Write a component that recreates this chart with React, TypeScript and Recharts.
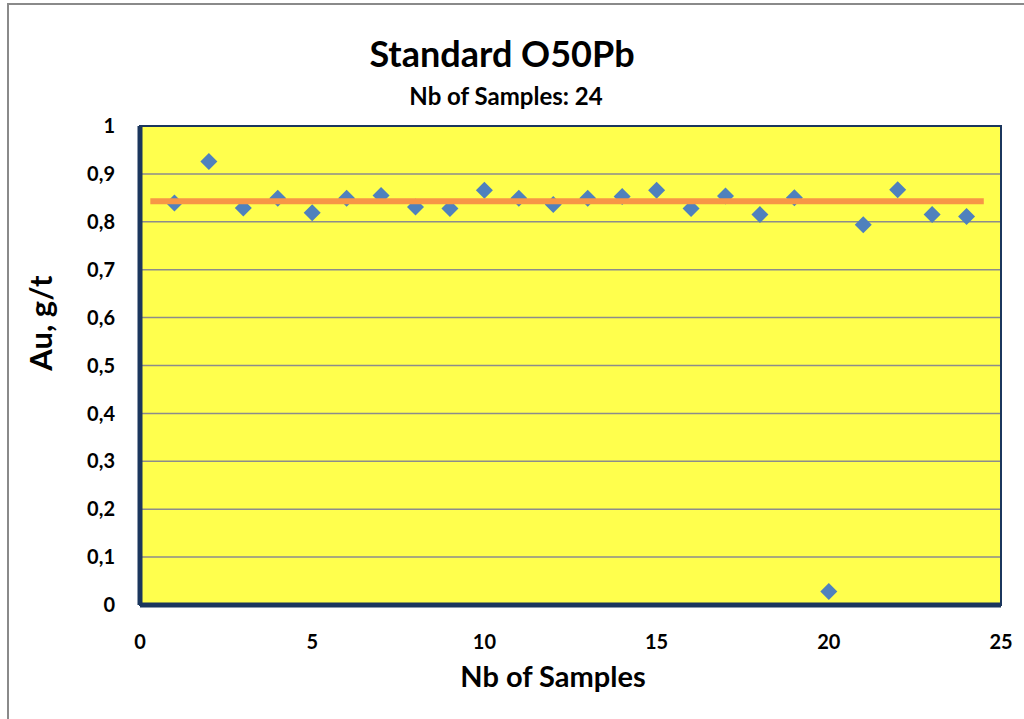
import {
  ScatterChart,
  Scatter,
  XAxis,
  YAxis,
  CartesianGrid,
  ReferenceArea,
} from "recharts";

const sampleNo = [1, 2, 3, 4, 5, 6, 7, 8, 9, 10, 11, 12, 13, 14, 15, 16, 17, 18, 19, 20, 21, 22, 23, 24];
const auValues = [
  0.839, 0.926, 0.829, 0.849, 0.819, 0.849, 0.855, 0.831, 0.828, 0.866, 0.849, 0.836,
  0.849, 0.853, 0.866, 0.828, 0.854, 0.815, 0.85, 0.028, 0.794, 0.867, 0.815, 0.811,
];
const avgLineX = [0.3, 24.5];
const avgValue = 0.843;
const xTicks = [0, 5, 10, 15, 20, 25];
const yTicks = [0, 0.1, 0.2, 0.3, 0.4, 0.5, 0.6, 0.7, 0.8, 0.9, 1];

const NAVY = "#1B365D";
const FONT = "Lato, 'Noto Sans', sans-serif";

const points = sampleNo.map((x, i) => ({ x, y: auValues[i] }));
const avgLine = avgLineX.map((x) => ({ x, y: avgValue }));

function Diamond(props: any) {
  const { cx, cy } = props;
  const r = 8.5;
  return (
    <polygon
      points={`${cx},${cy - r} ${cx + r},${cy} ${cx},${cy + r} ${cx - r},${cy}`}
      fill="#4F81BD"
    />
  );
}

const tickStyle = { fontSize: 20, fontWeight: 700, fill: "#000", fontFamily: FONT };

export default function App() {
  return (
    <div
      style={{
        position: "absolute",
        left: 0,
        top: 0,
        width: 1024,
        height: 719,
        overflow: "hidden",
        background: "#fff",
        fontFamily: FONT,
      }}
    >
      <div
        style={{
          position: "absolute",
          left: 7,
          top: 3,
          width: 1100,
          height: 800,
          border: "2px solid #8a8a8a",
        }}
      />
      <div
        style={{
          position: "absolute",
          left: 0,
          width: 1004,
          top: 30,
          textAlign: "center",
          fontSize: 36,
          fontWeight: 700,
          lineHeight: "46px",
        }}
      >
        Standard O50Pb
      </div>
      <div
        style={{
          position: "absolute",
          left: 0,
          width: 1012,
          top: 81,
          textAlign: "center",
          fontSize: 24,
          fontWeight: 700,
          lineHeight: "30px",
        }}
      >
        Nb of Samples: 24
      </div>
      <ScatterChart
        width={1024}
        height={719}
        margin={{ top: 126, right: 23, bottom: 74, left: 80 }}
        style={{ position: "absolute", left: 0, top: 0 }}
      >
        <CartesianGrid
          vertical={false}
          stroke="#8c8c8c"
          strokeWidth={1.5}
          fill="#FFFF4D"
          fillOpacity={1}
        />
        <XAxis
          type="number"
          dataKey="x"
          domain={[0, 25]}
          ticks={xTicks}
          height={40}
          tickSize={0}
          tickMargin={30}
          tickLine={false}
          tick={tickStyle}
          axisLine={{ stroke: NAVY, strokeWidth: 5 }}
        />
        <YAxis
          type="number"
          dataKey="y"
          domain={[0, 1]}
          ticks={yTicks}
          width={60}
          tickSize={0}
          tickMargin={25}
          tickLine={false}
          tick={tickStyle}
          tickFormatter={(v: number) => String(v).replace(".", ",")}
          axisLine={{ stroke: NAVY, strokeWidth: 5 }}
        />
        <ReferenceArea
          x1={0}
          x2={25}
          y1={0}
          y2={1}
          fill="none"
          stroke={NAVY}
          strokeWidth={2}
          ifOverflow="visible"
        />
        <Scatter data={points} shape={Diamond} isAnimationActive={false} />
        <Scatter
          data={avgLine}
          line={{ stroke: "#F79646", strokeWidth: 6 }}
          lineType="joint"
          shape={() => <g />}
          isAnimationActive={false}
        />
      </ScatterChart>
      <div
        style={{
          position: "absolute",
          left: 0,
          width: 1106,
          top: 657,
          textAlign: "center",
          fontSize: 29,
          fontWeight: 700,
          lineHeight: "38px",
        }}
      >
        Nb of Samples
      </div>
      <div
        style={{
          position: "absolute",
          left: 40,
          top: 323,
          transform: "translate(-50%, -50%) rotate(-90deg)",
          fontSize: 31,
          fontWeight: 700,
          whiteSpace: "nowrap",
          lineHeight: "38px",
        }}
      >
        Au, g/t
      </div>
    </div>
  );
}
